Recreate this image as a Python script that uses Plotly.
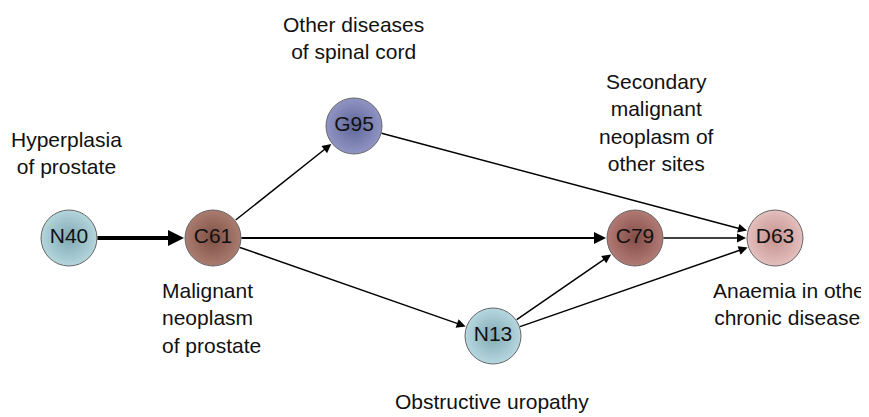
import plotly.graph_objects as go

# nodes
node_ids = ["N40", "C61", "G95", "C79", "D63", "N13"]
node_x = [61, 205, 346, 627, 767, 485]
node_y = [230, 230, 118, 230, 230, 328]
node_colors = ["#7fa9b3", "#7e5045", "#5f6598", "#834c47", "#c4918f", "#82aab5"]
node_light = ["#b4d5dc", "#aa7c70", "#9095c4", "#b17a74", "#e3bfbd", "#b6d7df"]

# edges (from, to, width)
edges = [("N40", "C61", 4), ("C61", "G95", 1.5), ("C61", "C79", 2),
         ("C61", "N13", 1.5), ("G95", "D63", 1.5), ("C79", "D63", 1.5),
         ("N13", "C79", 1.5), ("N13", "D63", 1.5)]

# descriptions
desc_text = ["Hyperplasia<br>of prostate", "Malignant<br>neoplasm<br>of prostate",
             "Other diseases<br>of spinal cord",
             "Secondary<br>malignant<br>neoplasm of<br>other sites",
             "Anaemia in other<br>chronic diseases", "Obstructive uropathy"]
desc_x = [58, 152, 345, 648, 784, 484]
desc_y = [145, 310, 30, 114, 296, 393]
desc_align = ["center", "left", "center", "center", "center", "center"]

pos = {n: (x, y) for n, x, y in zip(node_ids, node_x, node_y)}

fig = go.Figure()
for a, b, w in edges:
    x0, y0 = pos[a]
    x1, y1 = pos[b]
    fig.add_annotation(x=x1, y=y1, ax=x0, ay=y0, xref="x", yref="y", axref="x", ayref="y",
                       text="", showarrow=True, arrowhead=2, arrowsize=1.2 if w < 3 else 0.8,
                       arrowwidth=w, arrowcolor="black", standoff=29, startstandoff=27)

fig.add_trace(go.Scatter(
    x=node_x, y=node_y, mode="markers+text", text=node_ids,
    textfont=dict(size=21, color="#111", family="Liberation Sans"),
    marker=dict(size=56, color=node_light, line=dict(color="#666", width=1),
                gradient=dict(type="radial", color=node_colors)),
    hoverinfo="skip", showlegend=False))

for t, x, y, al in zip(desc_text, desc_x, desc_y, desc_align):
    fig.add_annotation(x=x, y=y, xref="x", yref="y", text=t, showarrow=False,
                       align=al, xanchor="left" if al == "left" else "center",
                       font=dict(size=21, color="#111", family="Liberation Sans"))

fig.update_xaxes(range=[0, 869], visible=False)
fig.update_yaxes(range=[417, 0], visible=False)
fig.update_layout(width=869, height=417, margin=dict(l=0, r=0, t=0, b=0),
                  plot_bgcolor="white", paper_bgcolor="white")
fig.write_html("out.html")
